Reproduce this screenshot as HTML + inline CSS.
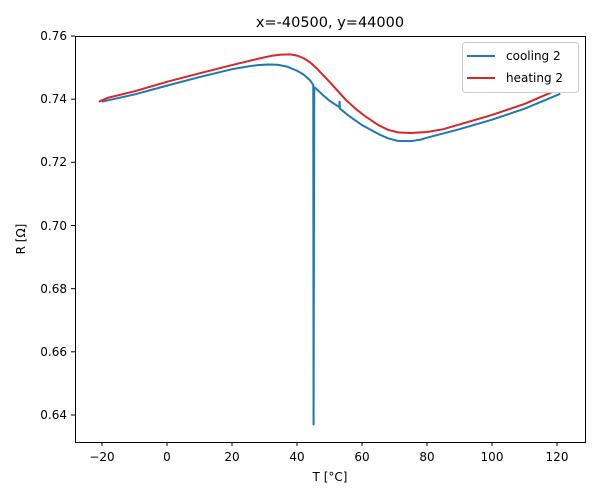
<!DOCTYPE html>
<html><head><style>body{margin:0;background:#fff}svg{display:block;font-family:"DejaVu Sans","Liberation Sans",sans-serif}</style></head><body>
<svg width="600" height="500" viewBox="0 0 600 500">
<rect width="600" height="500" fill="#fff"/>
<text x="330" y="27" font-size="14.5" text-anchor="middle">x=-40500, y=44000</text>
<g transform="matrix(3.25,0,0,-3158,167,2436.1)" fill="none" stroke-linejoin="round">
<polyline vector-effect="non-scaling-stroke" stroke="#1f77b4" stroke-width="2" points="-20,0.7392 -10,0.7415 0,0.7443 10,0.7470 20,0.7495 25,0.7504 28,0.7508 31,0.7510 34,0.7509 37,0.7503 40,0.7490 42,0.7478 44,0.7460 45,0.7445 45.1,0.637 45.3,0.7438 46,0.7432 48,0.7413 50,0.7395 53,0.7375 53.1,0.7392 53.2,0.737 56,0.7347 60,0.7318 65,0.7290 68,0.7276 71,0.7268 75,0.7267 78,0.7272 80,0.7278 90,0.7305 100,0.7335 110,0.7370 121,0.7417"/>
<polyline vector-effect="non-scaling-stroke" stroke="#d62728" stroke-width="2" points="-21,0.7392 -18,0.7405 -10,0.7425 0,0.7455 10,0.7482 20,0.7508 28,0.7528 32,0.7537 35,0.7541 38,0.7542 40,0.7538 42,0.7530 44,0.7517 46,0.7498 50,0.7455 55,0.7398 58,0.7370 61,0.7346 65,0.7318 68,0.7303 71,0.7295 75,0.7293 80,0.7296 85,0.7305 90,0.7320 100,0.7350 110,0.7385 119,0.7425"/>
</g>
<rect x="75.5" y="36.5" width="510" height="406" fill="none" stroke="#000" stroke-width="1"/>
<g stroke="#000">
<line x1="102" y1="442" x2="102" y2="446"/><line x1="167" y1="442" x2="167" y2="446"/><line x1="232" y1="442" x2="232" y2="446"/><line x1="297" y1="442" x2="297" y2="446"/><line x1="362" y1="442" x2="362" y2="446"/><line x1="427" y1="442" x2="427" y2="446"/><line x1="492" y1="442" x2="492" y2="446"/><line x1="557" y1="442" x2="557" y2="446"/>
<line x1="71" y1="415" x2="75" y2="415"/><line x1="71" y1="351.8" x2="75" y2="351.8"/><line x1="71" y1="288.7" x2="75" y2="288.7"/><line x1="71" y1="225.5" x2="75" y2="225.5"/><line x1="71" y1="162.3" x2="75" y2="162.3"/><line x1="71" y1="99.2" x2="75" y2="99.2"/><line x1="71" y1="36" x2="75" y2="36"/>
</g>
<g font-size="12" text-anchor="middle">
<text x="102" y="461">−20</text><text x="167" y="461">0</text><text x="232" y="461">20</text><text x="297" y="461">40</text><text x="362" y="461">60</text><text x="427" y="461">80</text><text x="492" y="461">100</text><text x="557" y="461">120</text>
<text x="330" y="481">T [°C]</text>
</g>
<g font-size="12" text-anchor="end">
<text x="67" y="419">0.64</text><text x="67" y="356">0.66</text><text x="67" y="293">0.68</text><text x="67" y="230">0.70</text><text x="67" y="166">0.72</text><text x="67" y="103">0.74</text><text x="67" y="40">0.76</text>
</g>
<text transform="translate(25,239) rotate(-90)" font-size="12" text-anchor="middle">R [Ω]</text>
<rect x="462.5" y="42.5" width="116" height="50" rx="3" fill="#fff" stroke="#ccc"/>
<line x1="467" y1="56" x2="495" y2="56" stroke="#1f77b4" stroke-width="2"/>
<line x1="467" y1="78" x2="495" y2="78" stroke="#d62728" stroke-width="2"/>
<text x="506" y="60" font-size="12">cooling 2</text>
<text x="506" y="82" font-size="12">heating 2</text>
</svg>
</body></html>
